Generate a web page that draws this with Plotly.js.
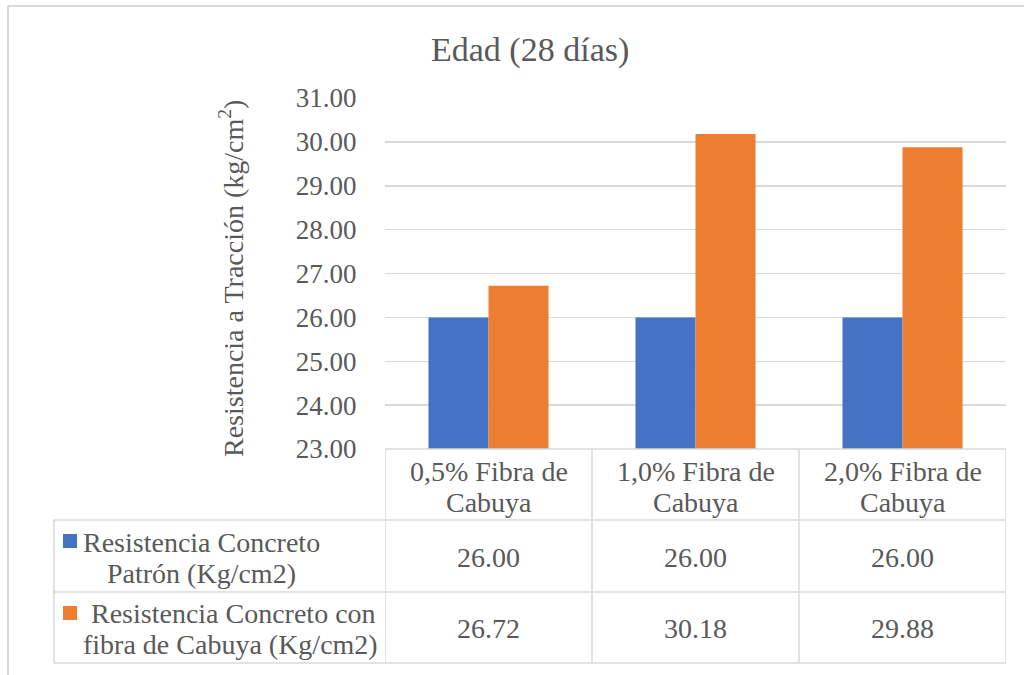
<!DOCTYPE html>
<html>
<head>
<meta charset="utf-8">
<script src="https://cdn.plot.ly/plotly-3.0.1.min.js"></script>
<style>html,body{margin:0;padding:0;background:#fff;}#chart{width:1024px;height:675px;}</style>
</head>
<body>
<div id="chart"></div>
<script>
const categories = ["0,5% Fibra de<br>Cabuya", "1,0% Fibra de<br>Cabuya", "2,0% Fibra de<br>Cabuya"];
const seriesNames = ["Resistencia Concreto<br>Patrón (Kg/cm2)", " Resistencia Concreto con<br>fibra de Cabuya (Kg/cm2)"];
const patron = [26.00, 26.00, 26.00];
const fibra = [26.72, 30.18, 29.88];
const colors = ["#4472C4", "#ED7D31"];
const chartTitle = "Edad (28 días)";
const yTitle = "Resistencia a Tracción (kg/cm<sup>2</sup>)";

// plot area in pixels
const L = 385, R = 1006, T = 98, B = 449;
const W = 1024, H = 675;
const px = v => (v - L) / (R - L);
const py = v => (B - v) / (B - T);
const FONT = 'Liberation Serif, Times New Roman, serif';
const TXT = '#595959';
const LINE = '#d9d9d9';
const FS = 28;

const xs = [0, 1, 2];
const traces = [
  {type: 'bar', x: xs, y: patron, name: seriesNames[0], marker: {color: colors[0]}},
  {type: 'bar', x: xs, y: fibra, name: seriesNames[1], marker: {color: colors[1]}}
];

const shapes = [];
const line = (x0, y0, x1, y1, w) => shapes.push({type: 'line', xref: 'paper', yref: 'paper',
  x0: px(x0), y0: py(y0), x1: px(x1), y1: py(y1), line: {color: LINE, width: w || 1.5}});
// outer chart border (top and left)
line(8, 6, 1030, 6, 2);
line(8, 6, 8, 690, 2);
// table horizontals
line(L, 449, R, 449);
line(54, 520, R, 520);
line(54, 592, R, 592);
line(54, 663, R, 663);
// table verticals using category positions
[-0.5, 0.5, 1.5, 2.5].forEach(c => shapes.push({type: 'line', xref: 'x', yref: 'paper',
  x0: c, x1: c, y0: py(449), y1: py(663), line: {color: LINE, width: 1.5}}));
line(54, 520, 54, 663);
// legend squares
shapes.push({type: 'rect', xref: 'paper', yref: 'paper', x0: px(63), x1: px(77), y0: py(534), y1: py(548), fillcolor: colors[0], line: {width: 0}});
shapes.push({type: 'rect', xref: 'paper', yref: 'paper', x0: px(63), x1: px(77), y0: py(606), y1: py(620), fillcolor: colors[1], line: {width: 0}});

const ann = [];
const txt = (text, xref, x, yPix, anchor, size) => ann.push({text: text, xref: xref, yref: 'paper', x: x, y: py(yPix),
  showarrow: false, font: {family: FONT, size: size || FS, color: TXT}, xanchor: anchor || 'center', yanchor: 'middle'});

txt(chartTitle, 'paper', px(530), 50, 'center', 34);
ann.push({text: yTitle, xref: 'paper', yref: 'paper', x: px(231), y: py(279), showarrow: false, textangle: -90,
  font: {family: FONT, size: 28, color: TXT}, xanchor: 'center', yanchor: 'middle'});

const lineY = 31;
categories.forEach((c, i) => {
  c.split('<br>').forEach((part, k) => txt(part, 'x', xs[i], 471 + k * lineY));
});
const rowCenters = [557, 628];
const labelCenters = [201, 230];
[patron, fibra].forEach((arr, r) => {
  arr.forEach((v, i) => txt(v.toFixed(2), 'x', xs[i], rowCenters[r]));
  seriesNames[r].split('<br>').forEach((part, k) =>
    txt(part, 'paper', px(labelCenters[r]), rowCenters[r] - 15 + k * lineY));
});

const layout = {
  width: W, height: H,
  margin: {l: L, r: W - R, t: T, b: H - B, pad: 0},
  paper_bgcolor: '#fff', plot_bgcolor: '#fff',
  showlegend: false,
  barmode: 'group', bargap: 0.42, bargroupgap: 0,
  font: {family: FONT, color: TXT},
  xaxis: {range: [-0.5, 2.5], showticklabels: false, showgrid: false, zeroline: false, showline: false, ticks: '', fixedrange: true},
  yaxis: {range: [23, 31], dtick: 1, tick0: 23, tickformat: '.2f', showgrid: true, gridcolor: LINE, gridwidth: 1.5,
    zeroline: false, showline: false, ticks: 'outside', ticklen: 22, tickcolor: 'rgba(0,0,0,0)',
    tickfont: {family: FONT, size: 27, color: TXT}, fixedrange: true},
  shapes: shapes,
  annotations: ann
};
Plotly.newPlot('chart', traces, layout, {displayModeBar: false, staticPlot: true});
</script>
</body>
</html>
